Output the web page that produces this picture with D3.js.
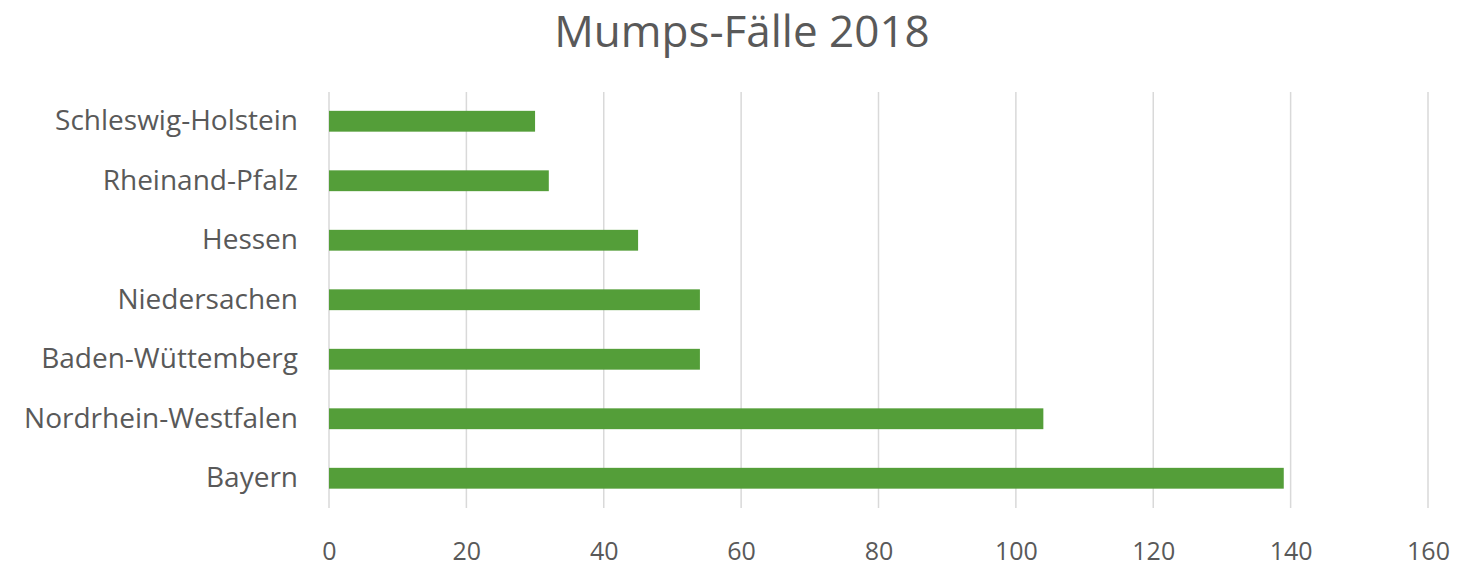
<!DOCTYPE html>
<html>
<head>
<meta charset="utf-8">
<script src="https://cdn.jsdelivr.net/npm/d3@7"></script>
<style>
body { margin: 0; background: #fff; }
svg { display: block; }
</style>
</head>
<body>
<svg id="chart" width="1468" height="567"></svg>
<script>
const categories = ["Schleswig-Holstein", "Rheinand-Pfalz", "Hessen", "Niedersachen", "Baden-Wüttemberg", "Nordrhein-Westfalen", "Bayern"];
const values = [30, 32, 45, 54, 54, 104, 139];
const tickValues = [0, 20, 40, 60, 80, 100, 120, 140, 160];
const title = "Mumps-Fälle 2018";

const svg = d3.select("#chart");
const font = "'Open Sans', 'Noto Sans', sans-serif";
const textColor = "#595959";

const x = d3.scaleLinear().domain([0, 160]).range([329, 1428]);
const y = d3.scaleBand().domain(categories).range([91.5, 508]).paddingInner(0.65).paddingOuter(0.325);

svg.append("text")
  .attr("x", 742).attr("y", 47)
  .attr("text-anchor", "middle")
  .attr("font-family", font).attr("font-size", 44)
  .attr("fill", textColor)
  .text(title);

// gridlines
svg.append("g")
  .selectAll("line")
  .data(tickValues)
  .join("line")
  .attr("x1", d => x(d)).attr("x2", d => x(d))
  .attr("y1", 92).attr("y2", 508)
  .attr("stroke", "#d9d9d9").attr("stroke-width", 1.5);

// x axis labels
const xAxis = d3.axisBottom(x).tickValues(tickValues).tickSize(0).tickPadding(0);
const gx = svg.append("g").attr("transform", "translate(0,542)").call(xAxis);
gx.select(".domain").remove();
gx.selectAll("text")
  .attr("font-family", font).attr("font-size", 25)
  .attr("fill", textColor);

// y axis labels
const yAxis = d3.axisLeft(y).tickSize(0).tickPadding(0);
const gy = svg.append("g").attr("transform", "translate(298,0)").call(yAxis);
gy.select(".domain").remove();
gy.selectAll("text")
  .attr("font-family", font).attr("font-size", 28)
  .attr("fill", textColor);

// bars
svg.append("g")
  .selectAll("rect")
  .data(categories)
  .join("rect")
  .attr("x", x(0))
  .attr("y", d => y(d))
  .attr("width", (d, i) => x(values[i]) - x(0))
  .attr("height", y.bandwidth())
  .attr("fill", "#549E39");
</script>
</body>
</html>
